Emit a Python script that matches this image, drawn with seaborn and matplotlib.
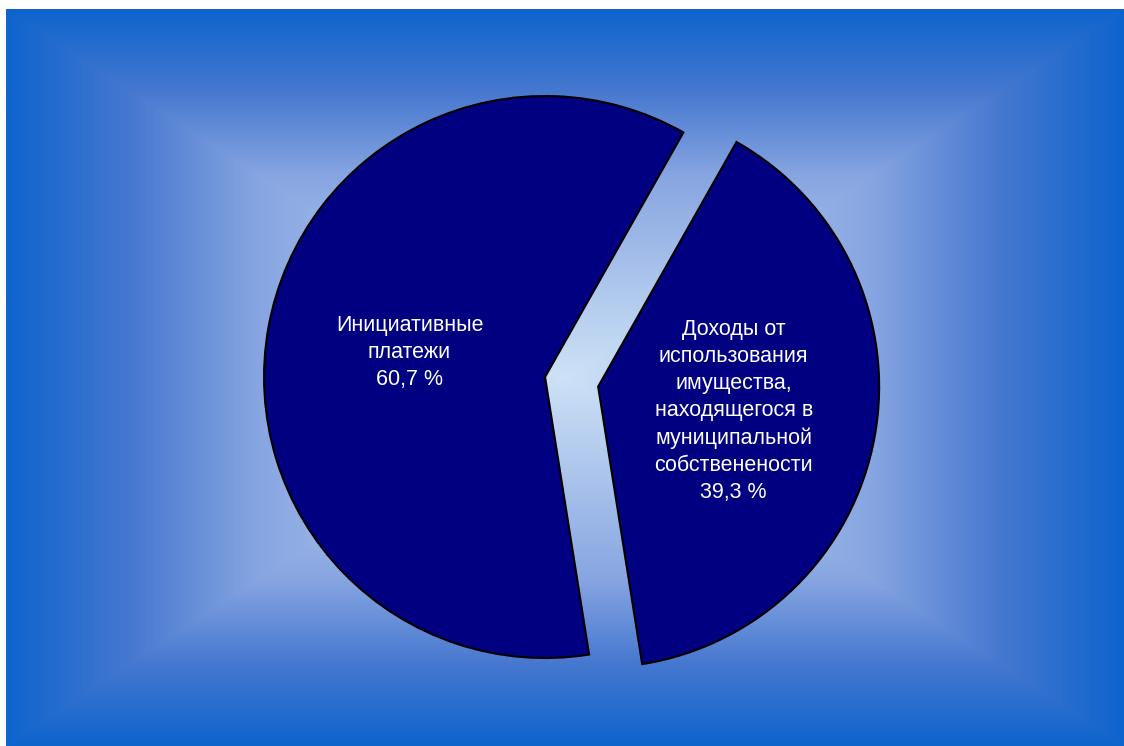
import matplotlib
matplotlib.use("Agg")
import matplotlib.pyplot as plt
import seaborn as sns
import numpy as np
from matplotlib.colors import LinearSegmentedColormap

sns.set_theme(style="white")
plt.rcParams["font.family"] = ["Liberation Sans", "DejaVu Sans"]

CATEGORIES = [
    "Инициативные\nплатежи",
    "Доходы от\nиспользования\nимущества,\nнаходящегося в\nмуниципальной\nсобственености",
]
SHARES = [60.7, 39.3]
SLICE_COLOR = "#000080"

# rectangular "from centre" gradient used as slide background
BG_STOPS = [
    (0.00, (205, 226, 246)),
    (0.55, (135, 165, 225)),
    (0.78, (70, 120, 208)),
    (1.00, (14, 100, 205)),
]

W, H, DPI = 1124, 746, 100
fig = plt.figure(figsize=(W / DPI, H / DPI), dpi=DPI)
fig.patch.set_facecolor("white")

# background panel (white margin top/left)
bg_ax = fig.add_axes([6 / W, 0, 1 - 6 / W, (H - 9) / H])
bg_ax.set_axis_off()
nx, ny = 560, 370
xx, yy = np.meshgrid(np.linspace(-1, 1, nx), np.linspace(-1, 1, ny))
t = np.maximum(np.abs(xx), np.abs(yy))
cmap = LinearSegmentedColormap.from_list(
    "bg", [(s, tuple(c / 255 for c in rgb)) for s, rgb in BG_STOPS]
)
bg_ax.imshow(t, cmap=cmap, vmin=0, vmax=1, aspect="auto",
             interpolation="bilinear", extent=(0, 1, 0, 1))

# pie axes
radius_px = 281
cx, cy = 571.6, H - 381.8
lim = 1.2
size = 2 * lim * radius_px
ax = fig.add_axes([(cx - size / 2) / W, (cy - size / 2) / H, size / W, size / H])
ax.set_axis_off()

wedges, texts, autotexts = ax.pie(
    SHARES,
    colors=[SLICE_COLOR] * len(SHARES),
    startangle=60.5,
    counterclock=True,
    explode=[0.096, 0.096],
    autopct=lambda p: "",
    pctdistance=0.49,
    wedgeprops=dict(edgecolor="black", linewidth=1.5),
    frame=False,
)
for at, label, val in zip(autotexts, CATEGORIES, SHARES):
    at.set_text(f"{label}\n{val:.1f} %".replace(".", ","))
    at.set_color("white")
    at.set_fontsize(15.5)
    at.set_linespacing(1.38)
    at.set_ha("center")
    at.set_va("center")
    at.set_multialignment("center")

ax.set_xlim(-lim, lim)
ax.set_ylim(-lim, lim)
ax.set_aspect("equal")

plt.savefig("out.png", dpi=DPI)
plt.close(fig)
